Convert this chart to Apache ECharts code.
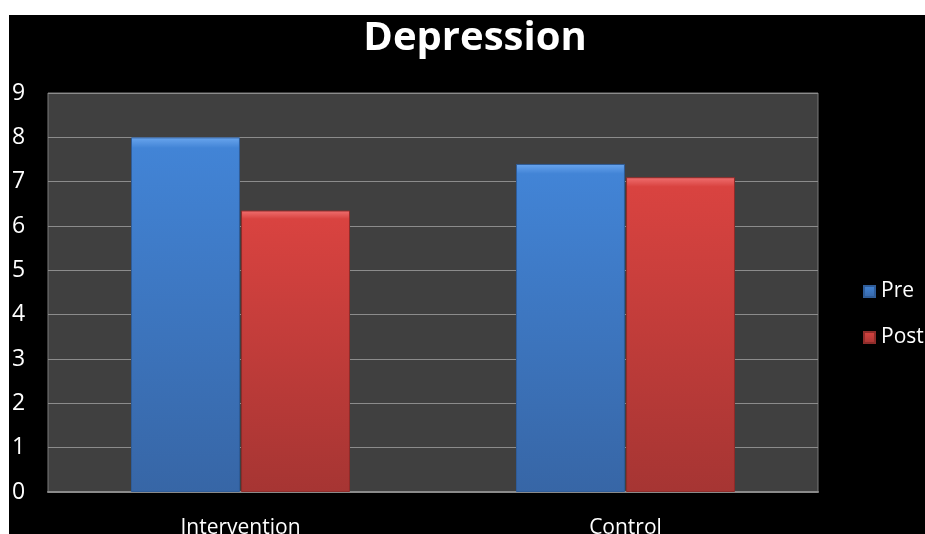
<!DOCTYPE html>
<html>
<head>
<meta charset="utf-8">
<script src="https://cdn.jsdelivr.net/npm/echarts@6/dist/echarts.min.js"></script>
<style>
  html, body { margin: 0; padding: 0; background: #ffffff; }
  #wrap { position: relative; width: 925px; height: 534px; overflow: hidden; background: #ffffff; }
  #chart { position: absolute; left: 9px; top: 15px; width: 916px; height: 519px; }
</style>
</head>
<body>
<div id="wrap"><div id="chart"></div></div>
<script>
const categories = ['Intervention', 'Control'];
const preValues = [8.0, 7.4];
const postValues = [6.35, 7.1];
const yTicks = [0, 1, 2, 3, 4, 5, 6, 7, 8, 9];

const fontFamily = '"Open Sans", "Liberation Sans", sans-serif';

function bevelGradient(top, mid, bottom) {
  return new echarts.graphic.LinearGradient(0, 0, 0, 1, [
    { offset: 0, color: top },
    { offset: 0.03, color: mid },
    { offset: 1, color: bottom }
  ]);
}

const chart = echarts.init(document.getElementById('chart'));
chart.setOption({
  backgroundColor: '#000000',
  animation: false,
  title: {
    text: 'Depression',
    left: 461,
    top: -1,
    textAlign: 'center',
    textStyle: { color: '#ffffff', fontSize: 40, fontWeight: 'bold', fontFamily: fontFamily }
  },
  legend: {
    orient: 'vertical',
    left: 849,
    top: 261,
    itemWidth: 11,
    itemHeight: 11,
    itemGap: 25,
    icon: 'rect',
    textStyle: { color: '#ffffff', fontSize: 21, fontFamily: fontFamily, padding: [0, 0, 0, 1] },
    data: ['Pre', 'Post']
  },
  grid: {
    left: 39, top: 78, width: 770, height: 399,
    outerBoundsMode: 'none', containLabel: false,
    backgroundColor: '#404040', show: true, borderColor: '#7a7a7a', borderWidth: 1
  },
  xAxis: {
    type: 'category',
    data: categories,
    axisTick: { show: false },
    axisLine: { lineStyle: { color: '#8a8a8a', width: 2 } },
    axisLabel: { color: '#ffffff', fontSize: 21, fontFamily: fontFamily, margin: 26 }
  },
  yAxis: {
    type: 'value',
    min: yTicks[0],
    max: yTicks[yTicks.length - 1],
    interval: 1,
    axisLine: { show: false },
    axisTick: { show: false },
    splitLine: { lineStyle: { color: '#8c8c8c', width: 1 } },
    axisLabel: { color: '#ffffff', fontSize: 23, fontFamily: fontFamily, align: 'left', margin: 36 }
  },
  series: [
    {
      name: 'Pre',
      type: 'bar',
      data: preValues,
      barWidth: '28.3%',
      barGap: '1%',
      itemStyle: {
        color: bevelGradient('#6aa6ee', '#4284d6', '#3766a6'),
        borderColor: '#2f5c98',
        borderWidth: 1
      }
    },
    {
      name: 'Post',
      type: 'bar',
      data: postValues,
      barWidth: '28.3%',
      itemStyle: {
        color: bevelGradient('#f07070', '#d94340', '#a63533'),
        borderColor: '#8e2c2a',
        borderWidth: 1
      }
    }
  ]
});
</script>
</body>
</html>
